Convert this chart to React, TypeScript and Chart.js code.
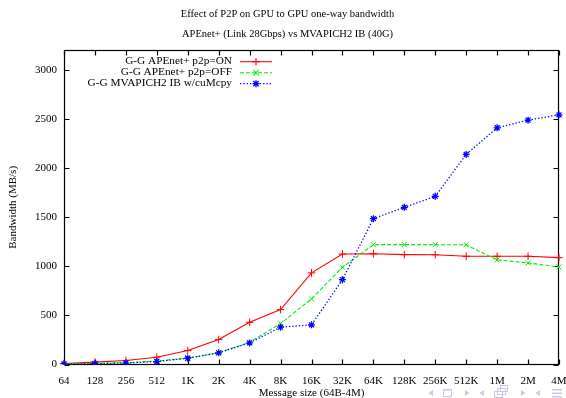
import React, { useEffect, useRef } from 'react';
import { Chart, registerables } from 'chart.js';

Chart.register(...registerables);

const categories = ['64', '128', '256', '512', '1K', '2K', '4K', '8K', '16K', '32K', '64K', '128K', '256K', '512K', '1M', '2M', '4M'];
const p2pOn = [10, 24, 41, 74, 142, 254, 430, 559, 933, 1125, 1127, 1119, 1117, 1102, 1102, 1102, 1088];
const p2pOff = [6, 12, 18, 35, 65, 120, 227, 417, 668, 990, 1220, 1220, 1220, 1218, 1065, 1034, 993];
const mvapichCuMcpy = [5, 8, 15, 30, 64, 119, 220, 380, 404, 864, 1485, 1600, 1712, 2139, 2410, 2488, 2542];
const yTicks = [0, 500, 1000, 1500, 2000, 2500, 3000];
const seriesNames = ['G-G APEnet+ p2p=ON', 'G-G APEnet+ p2p=OFF', 'G-G MVAPICH2 IB w/cuMcpy'];

const FAMILY = '"Liberation Serif", "Times New Roman", serif';
const font = { family: FAMILY, size: 11, weight: 'normal' as const };
const titleFont = { family: FAMILY, size: 10.5, weight: 'normal' as const };

function drawMarker(ctx: CanvasRenderingContext2D, style: string, x: number, y: number, r: number) {
  ctx.beginPath();
  if (style === 'cross' || style === 'star') {
    ctx.moveTo(x - r, y); ctx.lineTo(x + r, y);
    ctx.moveTo(x, y - r); ctx.lineTo(x, y + r);
  }
  if (style === 'crossRot' || style === 'star') {
    const d = r * 0.75;
    ctx.moveTo(x - d, y - d); ctx.lineTo(x + d, y + d);
    ctx.moveTo(x - d, y + d); ctx.lineTo(x + d, y - d);
  }
  ctx.stroke();
}

const framePlugin = {
  id: 'frame',
  beforeDatasetsDraw(chart: any) {
    const { ctx, chartArea: a, scales } = chart;
    const x = scales.x, y = scales.y;
    const L = Math.round(a.left) + 0.5, R = Math.round(a.right) - 0.5;
    const T = Math.round(a.top) + 0.5, B = Math.round(a.bottom) - 0.5;
    ctx.save();
    ctx.strokeStyle = '#000';
    ctx.lineWidth = 1.2;
    ctx.strokeRect(L, T, R - L, B - T);
    const tl = 5;
    ctx.beginPath();
    categories.forEach((_, i) => {
      const px = Math.round(x.getPixelForValue(i)) + 0.5;
      ctx.moveTo(px, B); ctx.lineTo(px, B - tl);
      ctx.moveTo(px, T); ctx.lineTo(px, T + tl);
    });
    yTicks.forEach((v) => {
      const py = Math.round(y.getPixelForValue(v)) + 0.5;
      ctx.moveTo(L, py); ctx.lineTo(L + tl, py);
      ctx.moveTo(R, py); ctx.lineTo(R - tl, py);
    });
    ctx.stroke();
    ctx.restore();
  },
};

const legendPlugin = {
  id: 'innerLegend',
  afterDraw(chart: any) {
    const { ctx, chartArea: a } = chart;
    const textRight = 232;
    const sx0 = 240, sx1 = 272;
    ctx.save();
    ctx.font = `11.3px ${FAMILY}`;
    ctx.textAlign = 'right';
    ctx.textBaseline = 'middle';
    chart.data.datasets.forEach((ds: any, i: number) => {
      const yy = a.top + 11 + i * 11;
      ctx.fillStyle = '#000';
      ctx.fillText(seriesNames[i], textRight, yy);
      ctx.strokeStyle = ds.borderColor;
      ctx.lineWidth = ds.borderWidth;
      ctx.setLineDash(ds.borderDash || []);
      ctx.beginPath();
      ctx.moveTo(sx0, yy + 0.5); ctx.lineTo(sx1, yy + 0.5);
      ctx.stroke();
      ctx.setLineDash([]);
      drawMarker(ctx, ds.pointStyle, (sx0 + sx1) / 2, yy + 0.5, ds.pointRadius);
    });
    ctx.restore();
  },
};

const navPlugin = {
  id: 'nav',
  afterDraw(chart: any) {
    const ctx = chart.ctx as CanvasRenderingContext2D;
    const y = 393;
    ctx.save();
    ctx.fillStyle = '#c9c9e4';
    ctx.strokeStyle = '#c9c9e4';
    ctx.lineWidth = 1;
    const left = (x: number) => { ctx.beginPath(); ctx.moveTo(x - 2.5, y); ctx.lineTo(x + 2, y - 3); ctx.lineTo(x + 2, y + 3); ctx.closePath(); ctx.fill(); };
    const right = (x: number) => { ctx.beginPath(); ctx.moveTo(x + 2.5, y); ctx.lineTo(x - 2, y - 3); ctx.lineTo(x - 2, y + 3); ctx.closePath(); ctx.fill(); };
    left(431);
    ctx.strokeRect(443.5, y - 3.5, 8, 7);
    ctx.fillRect(443, y - 4, 9, 1.5);
    right(467);
    left(482);
    ctx.strokeRect(494.5, y - 1.5, 8, 6);
    ctx.strokeRect(497.5, y - 4.5, 8, 6);
    ctx.strokeRect(500.5, y - 7.5, 7, 6);
    right(523);
    left(538);
    ctx.fillRect(552, y - 4, 10, 1.5);
    ctx.fillRect(552, y - 0.5, 10, 1.5);
    ctx.fillRect(552, y + 3, 10, 1.5);
    ctx.restore();
  },
};

export default function App() {
  const ref = useRef<HTMLCanvasElement>(null);
  useEffect(() => {
    document.body.style.margin = '0';
    const chart = new Chart(ref.current as HTMLCanvasElement, {
      type: 'line',
      data: {
        labels: categories,
        datasets: [
          { label: seriesNames[0], data: p2pOn, borderColor: '#ff0000', backgroundColor: '#ff0000', borderWidth: 1.1, pointStyle: 'cross', pointRadius: 3.8, pointBorderWidth: 1, pointBorderColor: '#ff0000', fill: false, order: 3 },
          { label: seriesNames[1], data: p2pOff, borderColor: '#00ee00', backgroundColor: '#00ee00', borderWidth: 1.1, borderDash: [4, 2], pointStyle: 'crossRot', pointRadius: 3.5, pointBorderWidth: 1, pointBorderColor: '#00ee00', fill: false, order: 2 },
          { label: seriesNames[2], data: mvapichCuMcpy, borderColor: '#0000ff', backgroundColor: '#0000ff', borderWidth: 1.3, borderDash: [1.3, 2], pointStyle: 'star', pointRadius: 3.5, pointBorderWidth: 1.3, pointBorderColor: '#0000ff', fill: false, order: 1 },
        ] as any,
      },
      options: {
        animation: false,
        responsive: false,
        devicePixelRatio: 1,
        layout: { padding: { left: 16, right: 7, top: 0, bottom: 0 } },
        plugins: {
          legend: { display: false },
          tooltip: { enabled: false },
          title: { display: true, text: 'Effect of P2P on GPU to GPU one-way bandwidth', color: '#000', font: titleFont, padding: { top: 7.5, bottom: 7 } },
          subtitle: { display: true, text: 'APEnet+ (Link 28Gbps) vs MVAPICH2 IB (40G)', color: '#000', font: titleFont, padding: { top: 0.5, bottom: 10 } },
        },
        scales: {
          x: {
            type: 'category',
            offset: false,
            grid: { display: false, drawTicks: false },
            border: { display: false },
            ticks: { color: '#000', font, padding: 10, autoSkip: false, maxRotation: 0 },
            title: { display: true, text: 'Message size (64B-4M)', color: '#000', font, padding: { top: 0, bottom: -1.5 } },
            afterFit: (s: any) => { s.height = 33.5; s.paddingLeft = 0; s.paddingRight = 0; },
          },
          y: {
            type: 'linear',
            min: 0,
            max: 3200,
            grid: { display: false, drawTicks: false },
            border: { display: false },
            ticks: { color: '#000', font, padding: 7, callback: (v: any) => String(v) },
            afterBuildTicks: (s: any) => { s.ticks = yTicks.map((v) => ({ value: v })); },
            title: { display: true, text: 'Bandwidth (MB/s)', color: '#000', font, padding: { top: -9.5, bottom: 0 } },
            afterFit: (s: any) => { s.width = 48; s.paddingTop = 0; s.paddingBottom = 0; },
          },
        },
      } as any,
      plugins: [framePlugin, legendPlugin, navPlugin],
    });
    return () => chart.destroy();
  }, []);
  return (
    <div style={{ width: 566, height: 398 }}>
      <canvas ref={ref} width={566} height={398} style={{ display: 'block' }} />
    </div>
  );
}
